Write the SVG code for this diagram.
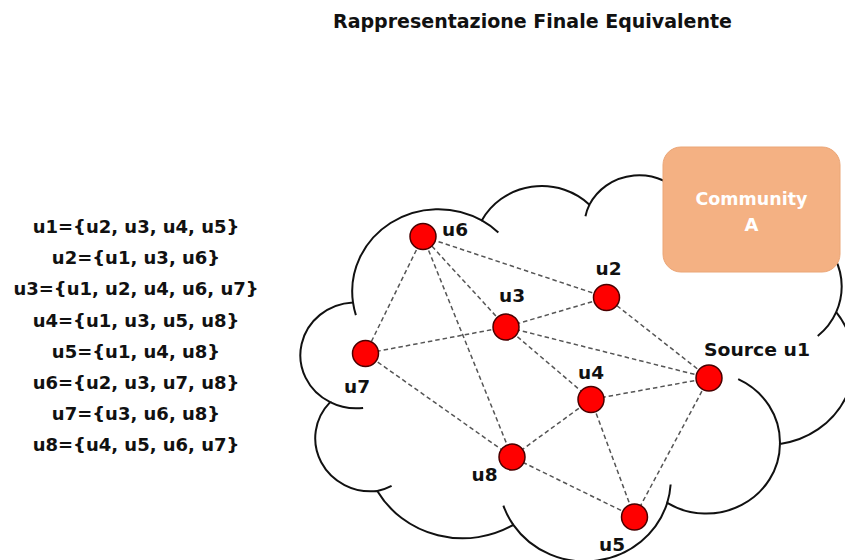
<svg xmlns="http://www.w3.org/2000/svg" width="845" height="560" viewBox="0 0 845 560">
  <style>
    .txt { font-family: "DejaVu Sans", "Liberation Sans", sans-serif; font-weight: bold; fill: #111; }
    .title { font-size: 19px; }
    .adj { font-size: 18px; text-anchor: middle; }
    .lbl { font-size: 18.5px; text-anchor: middle; }
    .comm { font-size: 18px; text-anchor: middle; fill: #fff; }
    .cloud { fill: #fff; stroke: #111; stroke-width: 2; vector-effect: non-scaling-stroke; }
    .tick { fill: none; stroke: #111; stroke-width: 2; vector-effect: non-scaling-stroke; }
    .edge { stroke: #555; stroke-width: 1.5; stroke-dasharray: 4.5 3; fill: none; }
    .node { fill: #ff0000; stroke: #4a0000; stroke-width: 1.5; }
  </style>

  <rect width="845" height="560" fill="#fff"/>

  <text class="txt title" x="532.5" y="28" text-anchor="middle" textLength="399" lengthAdjust="spacingAndGlyphs">Rappresentazione Finale Equivalente</text>

  <!-- adjacency list -->
  <g id="adjacency-list" class="txt adj">
    <text x="136" y="233.3">u1={u2, u3, u4, u5}</text>
    <text x="136" y="264.4">u2={u1, u3, u6}</text>
    <text x="136" y="295.4">u3={u1, u2, u4, u6, u7}</text>
    <text x="136" y="326.5">u4={u1, u3, u5, u8}</text>
    <text x="136" y="357.5">u5={u1, u4, u8}</text>
    <text x="136" y="388.6">u6={u2, u3, u7, u8}</text>
    <text x="136" y="419.7">u7={u3, u6, u8}</text>
    <text x="136" y="450.7">u8={u4, u5, u6, u7}</text>
  </g>

  <!-- cloud outline, drawn in a 43200 x 43200 unit box -->
  <g id="cloud" transform="translate(303.3,174) scale(0.012743,0.0089352)">
    <path class="cloud" d="M 3900 14370
      A 6753 9190 0 0 1 14005 5202
      A 5333 7267 0 0 1 22457 3430
      A 4365 5945 0 0 1 29835 2481
      A 4857 6595 0 0 1 38319 5578
      A 5333 7273 0 0 1 41819 15462
      A 6775 9220 0 0 1 37405 30205
      A 5785 7867 0 0 1 28556 36815
      A 6752 9215 0 0 1 16481 39268
      A 7720 10543 0 0 1 5806 35475
      A 4360 5936 0 0 1 2108 25531
      A 4345 5918 0 0 1 3900 14370 Z"/>
    <path class="tick" d="M 4693 26177 A 4345 5918 0 0 1 2108 25531
      M 6928 34899 A 4360 5936 0 0 1 5806 35475
      M 16481 39268 A 6752 9215 0 0 1 15701 37109
      M 28827 34751 A 6752 9215 0 0 1 28556 36815
      M 34129 22954 A 5785 7867 0 0 1 37405 30205
      M 41819 15462 A 5333 7273 0 0 1 40371 18138
      M 38319 5578 A 4857 6595 0 0 1 38396 6842
      M 29078 3952 A 4857 6595 0 0 1 29835 2481
      M 22141 4720 A 4365 5945 0 0 1 22457 3430
      M 14005 5202 A 6753 9190 0 0 1 15306 6552
      M 4127 15789 A 6753 9190 0 0 1 3900 14370"/>
  </g>

  <g id="community-a">
    <rect x="663" y="147" width="177" height="125" rx="18" ry="18" fill="#f4b183" stroke="#eba677" stroke-width="1"/>
    <text class="txt comm" x="751.5" y="205" textLength="112" lengthAdjust="spacingAndGlyphs">Community</text>
    <text class="txt comm" x="751.5" y="231">A</text>
  </g>

  <g id="edges">
    <line class="edge" x1="709" y1="378" x2="606.5" y2="297.5"/>
    <line class="edge" x1="709" y1="378" x2="506" y2="327"/>
    <line class="edge" x1="709" y1="378" x2="591" y2="399.5"/>
    <line class="edge" x1="709" y1="378" x2="634.5" y2="517"/>
    <line class="edge" x1="606.5" y1="297.5" x2="506" y2="327"/>
    <line class="edge" x1="606.5" y1="297.5" x2="423" y2="236.5"/>
    <line class="edge" x1="506" y1="327" x2="591" y2="399.5"/>
    <line class="edge" x1="506" y1="327" x2="423" y2="236.5"/>
    <line class="edge" x1="506" y1="327" x2="365.5" y2="353.5"/>
    <line class="edge" x1="591" y1="399.5" x2="634.5" y2="517"/>
    <line class="edge" x1="591" y1="399.5" x2="512" y2="457"/>
    <line class="edge" x1="634.5" y1="517" x2="512" y2="457"/>
    <line class="edge" x1="423" y1="236.5" x2="365.5" y2="353.5"/>
    <line class="edge" x1="423" y1="236.5" x2="512" y2="457"/>
    <line class="edge" x1="365.5" y1="353.5" x2="512" y2="457"/>
  </g>

  <g id="u1">
    <circle class="node" cx="709" cy="378" r="13"/>
    <text class="txt lbl" x="757" y="356" textLength="106" lengthAdjust="spacingAndGlyphs">Source u1</text>
  </g>
  <g id="u2">
    <circle class="node" cx="606.5" cy="297.5" r="13"/>
    <text class="txt lbl" x="608.5" y="275">u2</text>
  </g>
  <g id="u3">
    <circle class="node" cx="506" cy="327" r="13"/>
    <text class="txt lbl" x="512" y="302">u3</text>
  </g>
  <g id="u4">
    <circle class="node" cx="591" cy="399.5" r="13"/>
    <text class="txt lbl" x="591" y="379">u4</text>
  </g>
  <g id="u5">
    <circle class="node" cx="634.5" cy="517" r="13"/>
    <text class="txt lbl" x="612" y="550.5">u5</text>
  </g>
  <g id="u6">
    <circle class="node" cx="423" cy="236.5" r="13"/>
    <text class="txt lbl" x="455" y="236">u6</text>
  </g>
  <g id="u7">
    <circle class="node" cx="365.5" cy="353.5" r="13"/>
    <text class="txt lbl" x="357" y="393">u7</text>
  </g>
  <g id="u8">
    <circle class="node" cx="512" cy="457" r="13"/>
    <text class="txt lbl" x="484.5" y="481">u8</text>
  </g>
</svg>
